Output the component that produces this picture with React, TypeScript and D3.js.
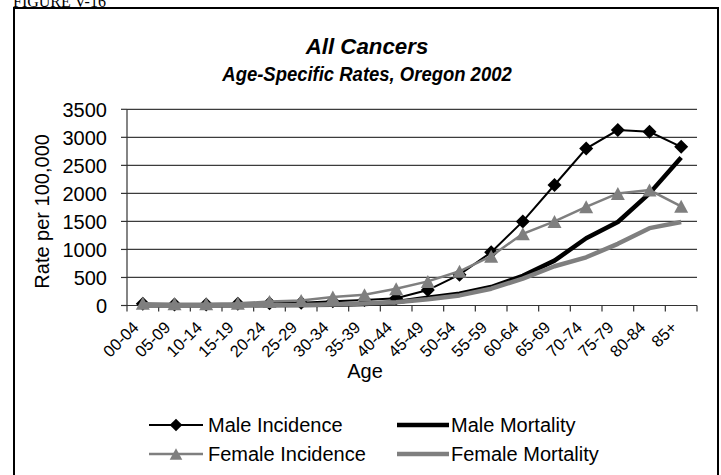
import React from "react";
import * as d3 from "d3";

// Age groups along the category axis
const ageGroups = [
  "00-04", "05-09", "10-14", "15-19", "20-24", "25-29", "30-34", "35-39", "40-44",
  "45-49", "50-54", "55-59", "60-64", "65-69", "70-74", "75-79", "80-84", "85+",
];

// Rates per 100,000 for each age group
const maleIncidence = [30, 20, 20, 30, 40, 50, 75, 98, 128, 276, 550, 950, 1500, 2150, 2800, 3130, 3100, 2830];
const maleMortality = [3, 3, 3, 5, 8, 10, 15, 28, 60, 140, 210, 330, 530, 800, 1200, 1490, 2000, 2640];
const femaleIncidence = [40, 30, 30, 40, 70, 90, 150, 190, 300, 430, 610, 880, 1280, 1500, 1760, 2000, 2060, 1770];
const femaleMortality = [3, 2, 2, 4, 6, 10, 20, 35, 60, 110, 180, 300, 480, 700, 860, 1100, 1380, 1490];

const yTicks = [0, 500, 1000, 1500, 2000, 2500, 3000, 3500];

const FONT = "'Liberation Sans', Arial, Helvetica, sans-serif";
const GRAY = "#7f7f7f";

const W = 721;
const H = 475;

const diamondPath = "M0,-7L7,0L0,7L-7,0Z";
const trianglePath = "M0,-6.5L7,6.5L-7,6.5Z";

export default function App() {
  const x = d3.scaleBand<string>().domain(ageGroups).range([127, 697]).paddingInner(0).paddingOuter(0);
  const y = d3.scaleLinear().domain([0, 3500]).range([305.5, 109.3]);
  const cx = (i: number) => (x(ageGroups[i]) as number) + x.bandwidth() / 2;

  const line = d3
    .line<number>()
    .x((_, i) => cx(i))
    .y((d) => y(d));

  const boundaries = ageGroups.map((a) => x(a) as number).concat([x.range()[1]]);

  return (
    <svg
      width={W}
      height={H}
      viewBox={`0 0 ${W} ${H}`}
      style={{ position: "absolute", left: 0, top: 0, display: "block", background: "#fff" }}
    >
      <rect x={0} y={0} width={W} height={H} fill="#fff" />

      {/* figure caption above the frame */}
      <text x={13} y={7} fontFamily="'Liberation Serif', 'Times New Roman', serif" fontSize={16} fill="#000">
        FIGURE V-16
      </text>

      {/* chart frame */}
      <rect x={14} y={8} width={704} height={480} fill="none" stroke="#000" strokeWidth={2} />

      {/* title */}
      <g fontFamily={FONT} fontWeight="bold" fontStyle="italic" textAnchor="middle" fill="#000">
        <text transform="translate(367,54) scale(0.97,1)" fontSize={23}>All Cancers</text>
        <text transform="translate(367,81) scale(0.88,1)" fontSize={21}>Age-Specific Rates, Oregon 2002</text>
      </g>

      {/* horizontal gridlines */}
      {yTicks.slice(1).map((t) => (
        <line key={"g" + t} x1={127} x2={697} y1={y(t)} y2={y(t)} stroke="#3c3c3c" strokeWidth={1.2} />
      ))}

      {/* y axis */}
      <line x1={127} x2={127} y1={y(3500)} y2={y(0)} stroke="#333" strokeWidth={1.2} />
      {yTicks.map((t) => (
        <g key={"yt" + t}>
          <line x1={121} x2={127} y1={y(t)} y2={y(t)} stroke="#333" strokeWidth={1.2} />
          <text
            x={107}
            y={y(t)}
            dy="0.36em"
            textAnchor="end"
            fontFamily={FONT}
            fontSize={20}
            fill="#000"
          >
            {t}
          </text>
        </g>
      ))}
      <text
        transform={`translate(49, ${y(1750) + 4}) rotate(-90)`}
        textAnchor="middle"
        fontFamily={FONT}
        fontSize={20}
        fill="#000"
      >
        Rate per 100,000
      </text>

      {/* x axis */}
      <line x1={127} x2={697} y1={y(0)} y2={y(0)} stroke="#333" strokeWidth={1.2} />
      {boundaries.map((b, i) => (
        <line key={"xt" + i} x1={b} x2={b} y1={y(0)} y2={y(0) + 6} stroke="#333" strokeWidth={1.2} />
      ))}
      {ageGroups.map((a, i) => (
        <text
          key={"xl" + a}
          transform={`translate(${cx(i) - 3}, ${y(0) + 23}) rotate(-45)`}
          textAnchor="end"
          fontFamily={FONT}
          fontSize={16.5}
          fill="#000"
        >
          {a}
        </text>
      ))}
      <text x={365} y={378} textAnchor="middle" fontFamily={FONT} fontSize={20} fill="#000">
        Age
      </text>

      {/* series */}
      <path d={line(maleIncidence) || ""} fill="none" stroke="#000" strokeWidth={2} />
      {maleIncidence.map((v, i) => (
        <path key={"mi" + i} d={diamondPath} transform={`translate(${cx(i)},${y(v)})`} fill="#000" />
      ))}

      <path d={line(maleMortality) || ""} fill="none" stroke="#000" strokeWidth={4.5} strokeLinejoin="round" />

      <path d={line(femaleIncidence) || ""} fill="none" stroke={GRAY} strokeWidth={2.5} />
      {femaleIncidence.map((v, i) => (
        <path key={"fi" + i} d={trianglePath} transform={`translate(${cx(i)},${y(v)})`} fill={GRAY} />
      ))}

      <path d={line(femaleMortality) || ""} fill="none" stroke={GRAY} strokeWidth={4.5} strokeLinejoin="round" />

      {/* legend */}
      <g fontFamily={FONT} fontSize={20} fill="#000">
        <line x1={149} x2={203} y1={425} y2={425} stroke="#000" strokeWidth={2} />
        <path d={diamondPath} transform="translate(176,425) scale(0.9)" fill="#000" />
        <text x={208} y={425} dy="0.36em">Male Incidence</text>

        <line x1={397} x2={449} y1={425} y2={425} stroke="#000" strokeWidth={4.5} />
        <text x={451} y={425} dy="0.36em">Male Mortality</text>

        <line x1={149} x2={203} y1={454} y2={454} stroke={GRAY} strokeWidth={2.5} />
        <path d={trianglePath} transform="translate(176,454) scale(0.9)" fill={GRAY} />
        <text x={208} y={454} dy="0.36em">Female Incidence</text>

        <line x1={397} x2={449} y1={454} y2={454} stroke={GRAY} strokeWidth={4.5} />
        <text x={451} y={454} dy="0.36em">Female Mortality</text>
      </g>
    </svg>
  );
}
